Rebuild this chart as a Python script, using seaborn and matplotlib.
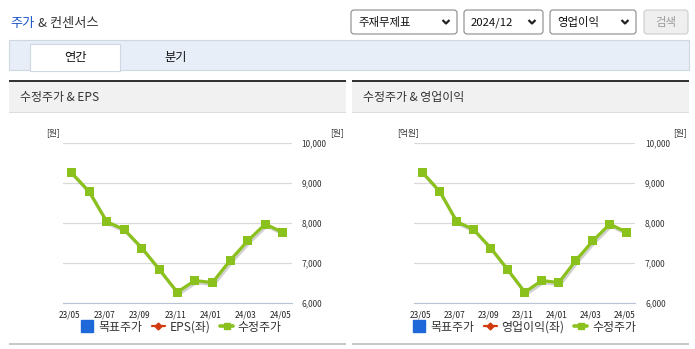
import numpy as np
import pandas as pd
import seaborn as sns
import matplotlib.pyplot as plt
import matplotlib.patheffects as pe
from matplotlib.patches import Rectangle, FancyBboxPatch
from matplotlib.lines import Line2D

# 월별 수정주가 (두 차트 공통)
months = ['23/04', '23/05', '23/06', '23/07', '23/08', '23/09', '23/10',
          '23/11', '23/12', '24/01', '24/02', '24/03', '24/04']
price = [9250, 8780, 8030, 7830, 7370, 6830, 6270, 6560, 6510, 7060, 7550, 7970, 7760]

tick_months = ['23/05', '23/07', '23/09', '23/11', '24/01', '24/03', '24/05']
y_ticks = [6000, 7000, 8000, 9000, 10000]

panel_titles = ['수정주가 & EPS', '수정주가 & 영업이익']
left_units = ['[원]', '[억원]']
legend_labels = [['목표주가', 'EPS(좌)', '수정주가'],
                 ['목표주가', '영업이익(좌)', '수정주가']]

GREEN = '#8bc11d'
BLUE = '#1f68da'
RED = '#d13a0e'
AXIS = '#b9c4d4'
TXT = '#333333'

sns.set_style('white')
plt.rcParams['font.family'] = ['Noto Sans CJK KR', 'DejaVu Sans']

df = pd.DataFrame({'월': months, '수정주가': price})
df['x'] = np.arange(len(df)) + 0.5
tick_pos = [1 + 2 * i for i in range(len(tick_months))]

W, H = 695, 349
fig = plt.figure(figsize=(W / 100, H / 100), dpi=100)
bg = fig.add_axes([0, 0, 1, 1])
bg.set_xlim(0, W)
bg.set_ylim(H, 0)
bg.axis('off')


def box(x0, y0, x1, y1, **kw):
    bg.add_patch(Rectangle((x0, y0), x1 - x0, y1 - y0, **kw))


def chevron(x, y):
    bg.plot([x - 3.5, x, x + 3.5], [y - 2, y + 1.5, y - 2], color='#222', lw=1.6,
            solid_capstyle='butt')


# 상단 제목
bg.text(10, 23, '주가', color='#1d58c6', fontsize=9.5, va='center')
bg.text(38, 23, '& 컨센서스', color=TXT, fontsize=9.5, va='center')

# 선택 박스
selects = [(351, 457, '주재무제표'), (464, 543, '2024/12'), (550, 636, '영업이익')]
for x0, x1, label in selects:
    bg.add_patch(FancyBboxPatch((x0, 10), x1 - x0, 24, boxstyle='round,pad=0,rounding_size=3',
                                fc='white', ec='#8a8a8a', lw=0.8))
    bg.text(x0 + 7, 22.5, label, fontsize=8.2, color='#111', va='center')
    chevron(x1 - 11, 22)
bg.add_patch(FancyBboxPatch((644, 10), 44, 24, boxstyle='round,pad=0,rounding_size=3',
                            fc='#efefef', ec='#cccccc', lw=0.8))
bg.text(666, 22.5, '검색', fontsize=8.2, color='#9a9a9a', va='center', ha='center')

# 탭
box(9, 40, 689, 70, fc='#e8eef8', ec='#cfd7e3', lw=0.8)
box(30, 44, 120, 70.6, fc='white', ec='#cfd7e3', lw=0.8)
box(30.6, 69, 119.4, 71, fc='white', ec='none')
bg.text(75, 57.5, '연간', fontsize=8.8, color='#111', ha='center', va='center')
bg.text(176, 57.5, '분기', fontsize=8.8, color='#111', ha='center', va='center')

panel_x = [(9, 346), (352, 689)]
chart_x = [(62.7, 291.7), (414.3, 635.3)]

for i in range(2):
    px0, px1 = panel_x[i]
    cx0, cx1 = chart_x[i]

    # 패널 머리
    box(px0, 82, px1, 112.5, fc='#f1f1f1', ec='none')
    box(px0, 79.8, px1, 82.2, fc='#333333', ec='none')
    box(px0, 112.2, px1, 113.4, fc='#dddddd', ec='none')
    box(px0, 343, px1, 345, fc='#c8c8c8', ec='none')
    bg.text(px0 + 11, 97.5, panel_titles[i], fontsize=8.6, color=TXT, va='center')

    # 단위
    bg.text(cx0 - 17, 133, left_units[i], fontsize=6.3, color=TXT, ha='left', va='center')
    bg.text(cx1 + 38, 133, '[원]', fontsize=6.3, color=TXT, ha='left', va='center')

    ax = fig.add_axes([cx0 / W, 1 - 303 / H, (cx1 - cx0) / W, (303 - 142.7) / H])
    ax.set_facecolor('none')
    sns.lineplot(data=df, x='x', y='수정주가', ax=ax, color=GREEN, lw=2.3,
                 marker='s', markersize=6.5, markeredgewidth=0,
                 path_effects=[pe.SimpleLineShadow(offset=(1, -1.5), alpha=0.18),
                               pe.Normal()])
    ax.set_xlim(0, 13)
    ax.set_ylim(6000, 10000)
    ax.set_xticks([0] + tick_pos, [''] + tick_months)
    ax.set_yticks(y_ticks, [f'{v:,}' for v in y_ticks])
    ax.yaxis.tick_right()
    ax.tick_params(axis='y', length=0, pad=7, labelsize=6, labelcolor=TXT)
    ax.tick_params(axis='x', length=4, width=1, color=AXIS, pad=1.5,
                   labelsize=6, labelcolor='#222')
    for lab in ax.get_xticklabels():
        lab.set_ha('right')
    ax.grid(axis='y', color='#d9d9d9', lw=0.9)
    ax.grid(axis='x', visible=False)
    for s in ['top', 'left', 'right']:
        ax.spines[s].set_visible(False)
    ax.spines['bottom'].set_color(AXIS)
    ax.set_xlabel('')
    ax.set_ylabel('')

    handles = [Line2D([], [], color=BLUE, marker='s', markersize=8.5, lw=0),
               Line2D([], [], color=RED, marker='D', markersize=3.5, lw=1.6),
               Line2D([], [], color=GREEN, marker='s', markersize=5, lw=2.6)]
    leg_cx = [181, 524][i]
    leg = ax.legend(handles, legend_labels[i], loc='center',
                    bbox_to_anchor=(leg_cx / W, 1 - 327 / H), bbox_transform=fig.transFigure,
                    ncol=3, frameon=False, fontsize=8.6, handlelength=1.1,
                    handletextpad=0.4, columnspacing=0.8, borderpad=0)
    for t in leg.get_texts():
        t.set_color(TXT)

fig.savefig('out.png', dpi=100)
